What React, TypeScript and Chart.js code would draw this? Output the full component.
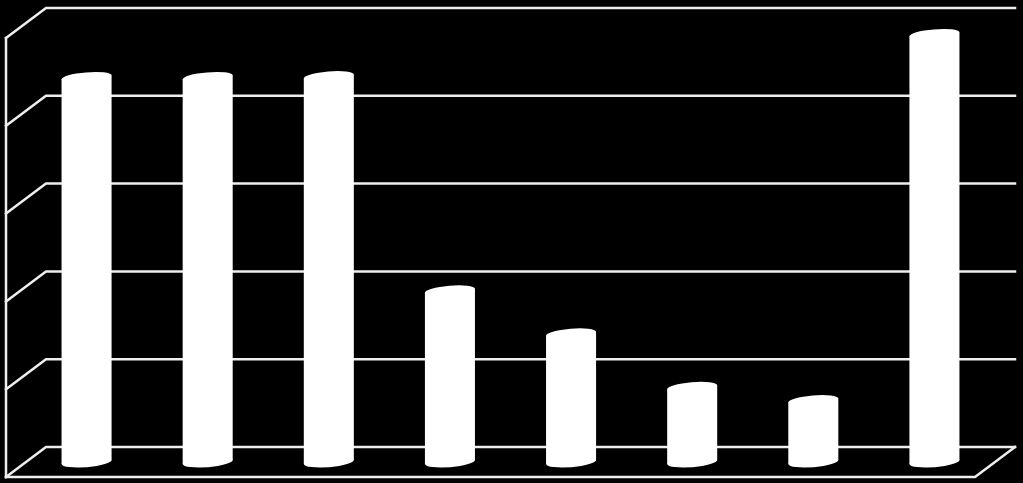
import React, { useEffect, useRef } from "react";
import { Chart, registerables } from "chart.js";

Chart.register(...registerables);

const categories = ["1", "2", "3", "4", "5", "6", "7", "8"];
const values = [87.6, 87.6, 87.8, 39.0, 29.2, 17.0, 14.0, 97.4];
const gridValues = [0, 20, 40, 60, 80, 100];

const DEPTH_X = -40;
const DEPTH_Y = 30;
const LINE_COLOR = "#eeeeee";
const BAR_COLOR = "#ffffff";

const frame3d = {
  id: "frame3d",
  beforeDatasetsDraw(chart: any) {
    const { ctx, chartArea, scales } = chart;
    const y = scales.y;
    const left = chartArea.left;
    const right = chartArea.right;
    ctx.save();
    ctx.strokeStyle = LINE_COLOR;
    ctx.lineWidth = 2.5;
    ctx.lineCap = "square";
    for (const v of gridValues) {
      const py = y.getPixelForValue(v);
      ctx.beginPath();
      ctx.moveTo(left + DEPTH_X, py + DEPTH_Y);
      ctx.lineTo(left, py);
      ctx.lineTo(right, py);
      ctx.stroke();
    }
    const y0 = y.getPixelForValue(gridValues[0]);
    const yTop = y.getPixelForValue(gridValues[gridValues.length - 1]);
    // front floor edge and right diagonal
    ctx.beginPath();
    ctx.moveTo(left + DEPTH_X, y0 + DEPTH_Y);
    ctx.lineTo(right + DEPTH_X, y0 + DEPTH_Y);
    ctx.lineTo(right, y0);
    ctx.stroke();
    // left wall front edge
    ctx.beginPath();
    ctx.moveTo(left + DEPTH_X, yTop + DEPTH_Y);
    ctx.lineTo(left + DEPTH_X, y0 + DEPTH_Y);
    ctx.stroke();
    ctx.restore();
  },
  afterDatasetsDraw(chart: any) {
    const { ctx } = chart;
    const meta = chart.getDatasetMeta(0);
    const sx = DEPTH_X / 2;
    const sy = DEPTH_Y / 2;
    ctx.save();
    ctx.fillStyle = BAR_COLOR;
    for (const el of meta.data) {
      const p = el.getProps(["x", "y", "base", "width"], true);
      const w = p.width / 2;
      const a = 9;
      const b = 5.5;
      const r = Math.sqrt(Math.max(w * w - a * a, 1));
      const yl = (b * a) / w;
      const cx = p.x + sx;
      const top = p.y + sy;
      const bot = p.base + sy;
      ctx.beginPath();
      ctx.moveTo(cx - w, top + yl);
      ctx.lineTo(cx + w, top - yl);
      ctx.lineTo(cx + w, bot - yl);
      ctx.lineTo(cx - w, bot + yl);
      ctx.closePath();
      ctx.fill();
      for (const cy of [top, bot]) {
        ctx.save();
        ctx.transform(1, 0, -a, b, cx, cy);
        ctx.beginPath();
        ctx.ellipse(0, 0, r, 1, 0, 0, Math.PI * 2);
        ctx.restore();
        ctx.fill();
      }
    }
    ctx.restore();
  },
};

export default function App() {
  const canvasRef = useRef<HTMLCanvasElement | null>(null);

  useEffect(() => {
    document.body.style.margin = "0";
    document.body.style.background = "#000";
    const canvas = canvasRef.current;
    if (!canvas) return;
    const chart = new Chart(canvas, {
      type: "bar",
      data: {
        labels: categories,
        datasets: [
          {
            data: values,
            backgroundColor: "rgba(0,0,0,0)",
            borderWidth: 0,
            categoryPercentage: 1,
            barPercentage: 0.413,
          },
        ],
      },
      options: {
        animation: false,
        responsive: false,
        maintainAspectRatio: false,
        layout: { padding: { left: 46, right: 8, top: 8, bottom: 36 } },
        plugins: {
          legend: { display: false },
          tooltip: { enabled: false },
        },
        scales: {
          x: { display: false, offset: true },
          y: { display: false, min: 0, max: 100, ticks: { stepSize: 20 } },
        },
      },
      plugins: [frame3d],
    });
    return () => chart.destroy();
  }, []);

  return (
    <div
      style={{
        position: "fixed",
        left: 0,
        top: 0,
        width: 1023,
        height: 483,
        background: "#000",
      }}
    >
      <canvas ref={canvasRef} width={1023} height={483} style={{ display: "block" }} />
    </div>
  );
}
